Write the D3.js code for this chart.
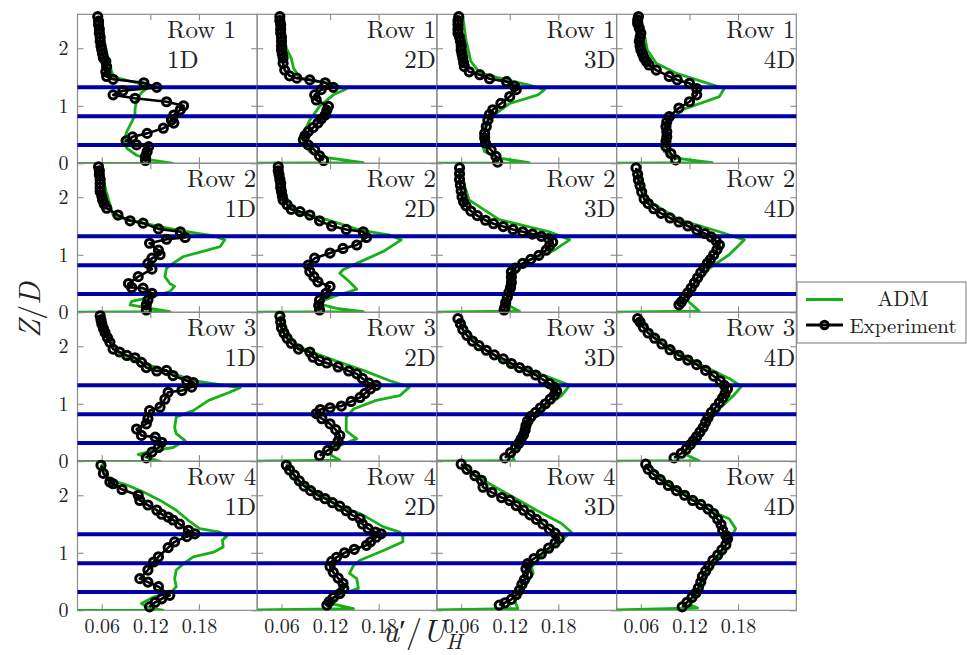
<!DOCTYPE html>
<html>
<head>
<meta charset="utf-8">
<script src="https://cdn.jsdelivr.net/npm/d3@7"></script>
<style>
  body { margin: 0; background: #fff; }
  svg { display: block; }
</style>
</head>
<body>
<div id="chart"></div>
<script>
// panel titles and axes
var rowNames  = ["Row 1", "Row 2", "Row 3", "Row 4"];
var distNames = ["1D", "2D", "3D", "4D"];
var xTicks = [0.06, 0.12, 0.18];
var zTicks = [0, 1, 2];
var rotorLines = [0.32, 0.82, 1.32];   // bottom tip, hub, top tip (Z/D)

// [u'/U_H, Z/D] pairs
var expR1_1D = [[0.055,2.55],[0.056,2.47],[0.056,2.41],[0.057,2.33],[0.057,2.26],[0.058,2.19],[0.058,2.12],[0.059,2.04],[0.060,1.97],[0.061,1.90],[0.062,1.83],[0.065,1.77],[0.066,1.68],[0.065,1.59],[0.066,1.51],[0.074,1.46],[0.112,1.40],[0.128,1.32],[0.086,1.26],[0.074,1.19],[0.101,1.13],[0.140,1.07],[0.161,1.00],[0.157,0.93],[0.149,0.84],[0.146,0.75],[0.149,0.70],[0.136,0.61],[0.116,0.52],[0.098,0.46],[0.090,0.39],[0.103,0.32],[0.118,0.29],[0.116,0.20],[0.114,0.12],[0.114,0.05]];
var admR1_1D = [[0.058,2.55],[0.062,2.20],[0.068,1.80],[0.072,1.60],[0.075,1.50],[0.106,1.39],[0.120,1.35],[0.109,1.23],[0.103,1.10],[0.101,0.93],[0.101,0.84],[0.097,0.72],[0.091,0.55],[0.088,0.41],[0.091,0.26],[0.103,0.14],[0.120,0.06],[0.148,0.0],[0,0]];
var expR1_2D = [[0.058,2.55],[0.058,2.48],[0.059,2.41],[0.059,2.33],[0.059,2.26],[0.060,2.19],[0.060,2.12],[0.060,2.04],[0.060,1.97],[0.061,1.90],[0.062,1.83],[0.062,1.74],[0.064,1.62],[0.070,1.52],[0.079,1.48],[0.095,1.45],[0.114,1.40],[0.124,1.32],[0.109,1.28],[0.101,1.19],[0.103,1.10],[0.118,0.99],[0.116,0.92],[0.114,0.84],[0.109,0.77],[0.105,0.70],[0.099,0.62],[0.093,0.55],[0.089,0.48],[0.087,0.41],[0.093,0.32],[0.101,0.23],[0.107,0.13],[0.112,0.05]];
var admR1_2D = [[0.060,2.55],[0.066,2.00],[0.072,1.83],[0.075,1.65],[0.083,1.48],[0.120,1.39],[0.140,1.29],[0.124,1.19],[0.107,0.99],[0.095,0.75],[0.087,0.52],[0.087,0.35],[0.095,0.20],[0.116,0.10],[0.161,0.01],[0,0]];
var expR1_3D = [[0.057,2.55],[0.056,2.48],[0.056,2.41],[0.056,2.33],[0.056,2.26],[0.058,2.19],[0.059,2.12],[0.060,2.04],[0.060,1.97],[0.061,1.90],[0.062,1.83],[0.063,1.75],[0.064,1.68],[0.070,1.59],[0.083,1.54],[0.095,1.47],[0.116,1.42],[0.126,1.34],[0.128,1.28],[0.120,1.16],[0.109,1.04],[0.099,0.93],[0.095,0.85],[0.093,0.75],[0.091,0.64],[0.089,0.52],[0.089,0.44],[0.090,0.35],[0.097,0.23],[0.103,0.12],[0.105,0.02]];
var admR1_3D = [[0.062,2.55],[0.066,2.14],[0.072,1.77],[0.083,1.57],[0.116,1.45],[0.144,1.36],[0.163,1.28],[0.155,1.19],[0.120,1.04],[0.103,0.87],[0.089,0.64],[0.085,0.35],[0.089,0.20],[0.107,0.09],[0.144,0.01],[0,0]];
var expR1_4D = [[0.057,2.55],[0.056,2.49],[0.056,2.43],[0.058,2.35],[0.060,2.26],[0.059,2.19],[0.058,2.12],[0.059,2.04],[0.060,1.97],[0.062,1.90],[0.064,1.83],[0.067,1.77],[0.070,1.71],[0.079,1.62],[0.095,1.51],[0.105,1.45],[0.120,1.39],[0.129,1.30],[0.129,1.19],[0.120,1.07],[0.107,0.96],[0.095,0.81],[0.092,0.72],[0.091,0.64],[0.092,0.55],[0.092,0.46],[0.091,0.38],[0.091,0.29],[0.097,0.17],[0.103,0.06]];
var admR1_4D = [[0.060,2.55],[0.064,2.26],[0.068,1.97],[0.079,1.74],[0.103,1.57],[0.136,1.42],[0.163,1.30],[0.157,1.16],[0.111,0.93],[0.093,0.70],[0.087,0.41],[0.089,0.20],[0.103,0.09],[0.148,0.01],[0,0]];

var expR2_1D = [[0.056,2.53],[0.057,2.46],[0.057,2.39],[0.058,2.31],[0.058,2.24],[0.058,2.17],[0.058,2.10],[0.060,2.02],[0.061,1.95],[0.063,1.88],[0.066,1.81],[0.080,1.69],[0.095,1.59],[0.111,1.55],[0.130,1.45],[0.157,1.40],[0.163,1.30],[0.140,1.27],[0.119,1.20],[0.130,1.08],[0.132,1.00],[0.122,0.94],[0.117,0.85],[0.122,0.75],[0.105,0.62],[0.093,0.50],[0.097,0.43],[0.111,0.42],[0.122,0.33],[0.117,0.21],[0.115,0.13],[0.115,0.04]];
var admR2_1D = [[0.058,2.53],[0.066,2.07],[0.074,1.69],[0.091,1.61],[0.132,1.49],[0.165,1.40],[0.198,1.33],[0.212,1.26],[0.206,1.14],[0.185,1.06],[0.161,0.97],[0.148,0.85],[0.140,0.77],[0.138,0.62],[0.144,0.50],[0.150,0.45],[0.144,0.36],[0.122,0.27],[0.097,0.19],[0.095,0.13],[0.111,0.09],[0.144,0.01],[0,0]];
var expR2_2D = [[0.056,2.53],[0.056,2.46],[0.057,2.39],[0.058,2.31],[0.059,2.24],[0.059,2.17],[0.060,2.10],[0.061,2.02],[0.062,1.95],[0.067,1.87],[0.072,1.79],[0.083,1.75],[0.095,1.69],[0.107,1.59],[0.122,1.50],[0.140,1.44],[0.161,1.40],[0.165,1.30],[0.153,1.17],[0.136,1.11],[0.120,1.03],[0.101,0.94],[0.093,0.82],[0.095,0.71],[0.100,0.62],[0.105,0.53],[0.120,0.45],[0.115,0.33],[0.107,0.21],[0.106,0.12],[0.107,0.04]];
var admR2_2D = [[0.058,2.53],[0.066,1.95],[0.083,1.72],[0.116,1.61],[0.157,1.43],[0.194,1.34],[0.208,1.26],[0.186,1.06],[0.153,0.85],[0.136,0.74],[0.132,0.68],[0.144,0.53],[0.153,0.40],[0.124,0.27],[0.103,0.16],[0.128,0.07],[0.161,0.01],[0,0]];
var expR2_3D = [[0.058,2.51],[0.058,2.41],[0.058,2.31],[0.059,2.21],[0.060,2.11],[0.061,2.01],[0.063,1.92],[0.066,1.85],[0.072,1.76],[0.080,1.68],[0.090,1.60],[0.100,1.54],[0.112,1.49],[0.124,1.44],[0.136,1.40],[0.148,1.36],[0.159,1.32],[0.168,1.28],[0.173,1.22],[0.169,1.15],[0.165,1.08],[0.156,0.99],[0.146,0.92],[0.136,0.85],[0.127,0.77],[0.122,0.70],[0.122,0.61],[0.122,0.52],[0.121,0.43],[0.119,0.35],[0.117,0.26],[0.115,0.17],[0.114,0.09],[0.113,0.04]];
var admR2_3D = [[0.060,2.51],[0.064,2.20],[0.070,1.95],[0.107,1.61],[0.169,1.40],[0.194,1.26],[0.175,1.08],[0.138,0.87],[0.126,0.65],[0.122,0.39],[0.113,0.16],[0.132,0.02],[0,0]];
var expR2_4D = [[0.054,2.51],[0.056,2.40],[0.057,2.30],[0.059,2.20],[0.061,2.09],[0.064,1.97],[0.069,1.89],[0.076,1.80],[0.085,1.72],[0.096,1.64],[0.107,1.57],[0.118,1.50],[0.129,1.43],[0.139,1.37],[0.147,1.31],[0.153,1.24],[0.157,1.17],[0.154,1.09],[0.150,1.00],[0.146,0.92],[0.142,0.85],[0.138,0.77],[0.134,0.69],[0.130,0.60],[0.126,0.51],[0.122,0.42],[0.118,0.34],[0.114,0.26],[0.110,0.18],[0.107,0.13]];
var admR2_4D = [[0.058,2.51],[0.062,2.20],[0.068,1.95],[0.107,1.61],[0.157,1.40],[0.188,1.26],[0.169,1.00],[0.145,0.77],[0.129,0.48],[0.117,0.21],[0.132,0.02],[0,0]];

var expR3_1D = [[0.058,2.53],[0.059,2.46],[0.060,2.39],[0.062,2.31],[0.064,2.24],[0.067,2.15],[0.070,2.07],[0.074,1.95],[0.082,1.90],[0.091,1.84],[0.101,1.80],[0.109,1.72],[0.115,1.63],[0.128,1.57],[0.140,1.58],[0.148,1.49],[0.165,1.40],[0.173,1.37],[0.171,1.29],[0.159,1.23],[0.142,1.20],[0.138,1.08],[0.132,0.94],[0.119,0.88],[0.117,0.74],[0.115,0.65],[0.103,0.56],[0.109,0.45],[0.126,0.42],[0.134,0.33],[0.130,0.24],[0.122,0.16],[0.115,0.06]];
var admR3_1D = [[0.058,2.55],[0.070,2.10],[0.082,1.87],[0.115,1.69],[0.144,1.55],[0.173,1.40],[0.202,1.34],[0.231,1.28],[0.218,1.20],[0.192,1.06],[0.173,0.88],[0.152,0.77],[0.150,0.59],[0.152,0.48],[0.163,0.36],[0.148,0.24],[0.126,0.19],[0.105,0.12],[0.115,0.07],[0.132,0.0],[0,0]];
var expR3_2D = [[0.058,2.52],[0.059,2.42],[0.060,2.32],[0.063,2.23],[0.067,2.14],[0.072,2.05],[0.081,1.95],[0.095,1.90],[0.099,1.81],[0.107,1.75],[0.116,1.71],[0.130,1.64],[0.143,1.57],[0.153,1.52],[0.160,1.44],[0.168,1.36],[0.177,1.32],[0.170,1.26],[0.163,1.18],[0.157,1.11],[0.146,1.04],[0.134,0.96],[0.120,0.93],[0.108,0.90],[0.103,0.83],[0.110,0.74],[0.120,0.65],[0.127,0.55],[0.132,0.45],[0.130,0.35],[0.126,0.27],[0.117,0.19],[0.107,0.10]];
var admR3_2D = [[0.060,2.55],[0.070,2.16],[0.083,1.98],[0.103,1.87],[0.132,1.72],[0.161,1.58],[0.194,1.40],[0.218,1.29],[0.206,1.14],[0.177,1.06],[0.149,0.91],[0.140,0.77],[0.140,0.53],[0.153,0.39],[0.136,0.30],[0.120,0.19],[0.122,0.10],[0.132,0.02],[0,0]];
var expR3_3D = [[0.056,2.48],[0.059,2.39],[0.062,2.29],[0.067,2.19],[0.074,2.09],[0.082,2.01],[0.091,1.93],[0.101,1.85],[0.112,1.78],[0.122,1.70],[0.132,1.63],[0.142,1.57],[0.152,1.50],[0.161,1.42],[0.169,1.35],[0.175,1.29],[0.178,1.22],[0.175,1.15],[0.170,1.08],[0.164,1.00],[0.158,0.93],[0.152,0.85],[0.146,0.78],[0.142,0.70],[0.140,0.62],[0.139,0.54],[0.137,0.46],[0.134,0.39],[0.131,0.31],[0.127,0.23],[0.121,0.15],[0.114,0.06]];
var admR3_3D = [[0.058,2.48],[0.080,2.02],[0.120,1.68],[0.163,1.49],[0.194,1.32],[0.184,1.14],[0.157,0.88],[0.145,0.62],[0.135,0.36],[0.123,0.10],[0.126,0.01],[0,0]];
var expR3_4D = [[0.056,2.48],[0.059,2.42],[0.063,2.33],[0.069,2.23],[0.077,2.14],[0.086,2.04],[0.096,1.94],[0.107,1.84],[0.118,1.76],[0.129,1.68],[0.140,1.58],[0.150,1.48],[0.158,1.40],[0.163,1.32],[0.167,1.26],[0.164,1.18],[0.161,1.10],[0.157,1.02],[0.152,0.93],[0.147,0.85],[0.143,0.76],[0.140,0.68],[0.137,0.59],[0.133,0.51],[0.129,0.43],[0.125,0.36],[0.121,0.29],[0.116,0.21],[0.110,0.14],[0.101,0.06]];
var admR3_4D = [[0.058,2.48],[0.085,2.06],[0.132,1.69],[0.169,1.44],[0.184,1.30],[0.175,1.15],[0.154,0.88],[0.138,0.62],[0.126,0.36],[0.113,0.13],[0.132,0.01],[0,0]];

var expR4_1D = [[0.059,2.52],[0.062,2.38],[0.070,2.23],[0.074,2.20],[0.085,2.10],[0.105,2.00],[0.107,1.91],[0.117,1.83],[0.128,1.74],[0.134,1.67],[0.142,1.62],[0.148,1.57],[0.156,1.50],[0.167,1.39],[0.175,1.33],[0.165,1.28],[0.150,1.19],[0.142,1.09],[0.130,0.93],[0.124,0.84],[0.117,0.70],[0.107,0.55],[0.117,0.49],[0.130,0.41],[0.144,0.26],[0.134,0.20],[0.126,0.14],[0.119,0.06]];
var admR4_1D = [[0.060,2.55],[0.070,2.26],[0.087,2.20],[0.111,2.06],[0.132,1.91],[0.152,1.74],[0.169,1.54],[0.181,1.42],[0.206,1.36],[0.214,1.28],[0.209,1.22],[0.210,1.10],[0.198,1.01],[0.173,0.93],[0.161,0.81],[0.152,0.70],[0.150,0.55],[0.152,0.41],[0.146,0.32],[0.124,0.23],[0.109,0.12],[0.115,0.06],[0.136,0.0],[0,0]];
var expR4_2D = [[0.066,2.52],[0.070,2.44],[0.076,2.35],[0.082,2.25],[0.088,2.16],[0.096,2.08],[0.105,2.00],[0.114,1.94],[0.123,1.87],[0.132,1.81],[0.140,1.73],[0.148,1.65],[0.157,1.59],[0.160,1.50],[0.167,1.42],[0.176,1.36],[0.183,1.33],[0.177,1.27],[0.170,1.19],[0.165,1.13],[0.150,1.06],[0.138,1.00],[0.128,0.92],[0.122,0.85],[0.120,0.76],[0.124,0.66],[0.130,0.56],[0.136,0.47],[0.137,0.38],[0.132,0.29],[0.124,0.22],[0.119,0.15],[0.116,0.09]];
var admR4_2D = [[0.066,2.55],[0.079,2.26],[0.103,2.06],[0.132,1.80],[0.157,1.68],[0.165,1.62],[0.186,1.45],[0.206,1.36],[0.210,1.28],[0.210,1.19],[0.186,1.04],[0.157,0.87],[0.149,0.78],[0.144,0.64],[0.153,0.55],[0.155,0.38],[0.136,0.29],[0.120,0.12],[0.149,0.03],[0,0]];
var expR4_3D = [[0.060,2.54],[0.067,2.45],[0.077,2.34],[0.085,2.26],[0.087,2.14],[0.098,2.05],[0.110,1.96],[0.120,1.91],[0.128,1.82],[0.137,1.74],[0.145,1.66],[0.153,1.58],[0.161,1.50],[0.169,1.41],[0.176,1.34],[0.181,1.25],[0.176,1.17],[0.168,1.08],[0.159,0.98],[0.150,0.90],[0.142,0.81],[0.140,0.72],[0.142,0.62],[0.138,0.53],[0.135,0.45],[0.132,0.35],[0.128,0.27],[0.122,0.19],[0.114,0.13],[0.107,0.09]];
var admR4_3D = [[0.062,2.55],[0.074,2.38],[0.091,2.23],[0.124,1.97],[0.153,1.74],[0.184,1.51],[0.196,1.36],[0.186,1.25],[0.173,1.10],[0.157,0.93],[0.147,0.75],[0.149,0.64],[0.142,0.49],[0.136,0.35],[0.126,0.17],[0.130,0.03],[0,0]];
var expR4_4D = [[0.066,2.54],[0.069,2.45],[0.076,2.36],[0.084,2.27],[0.094,2.17],[0.104,2.08],[0.114,2.00],[0.124,1.91],[0.134,1.84],[0.143,1.76],[0.150,1.68],[0.155,1.58],[0.159,1.49],[0.161,1.39],[0.165,1.30],[0.167,1.24],[0.165,1.14],[0.160,1.05],[0.155,0.96],[0.149,0.87],[0.144,0.77],[0.140,0.68],[0.136,0.59],[0.134,0.49],[0.131,0.39],[0.128,0.30],[0.123,0.22],[0.117,0.14],[0.111,0.06]];
var admR4_4D = [[0.068,2.55],[0.087,2.29],[0.120,1.97],[0.149,1.71],[0.169,1.59],[0.177,1.42],[0.173,1.30],[0.169,1.22],[0.157,0.93],[0.142,0.64],[0.136,0.46],[0.128,0.23],[0.120,0.10],[0.130,0.04],[0,0]];

var expGrid = [[expR1_1D, expR1_2D, expR1_3D, expR1_4D],
               [expR2_1D, expR2_2D, expR2_3D, expR2_4D],
               [expR3_1D, expR3_2D, expR3_3D, expR3_4D],
               [expR4_1D, expR4_2D, expR4_3D, expR4_4D]];
var admGrid = [[admR1_1D, admR1_2D, admR1_3D, admR1_4D],
               [admR2_1D, admR2_2D, admR2_3D, admR2_4D],
               [admR3_1D, admR3_2D, admR3_3D, admR3_4D],
               [admR4_1D, admR4_2D, admR4_3D, admR4_4D]];

var width = 967, height = 655;
var grid = {left: 77.5, top: 14.3, panelW: 179.7, panelH: 149};
var serif = "'Latin Modern Roman', 'Liberation Serif', 'Times New Roman', serif";
var admColor = "#17b117", expColor = "#000", rotorColor = "#0000a8", frameColor = "#8c8c8c";

var svg = d3.select("#chart").append("svg")
    .attr("width", width)
    .attr("height", height)
    .style("font-family", serif);

var x = d3.scaleLinear().domain([0.03, 0.252]).range([0, grid.panelW]);
var z = d3.scaleLinear().domain([0, 2.59]).range([grid.panelH, 0]);

var line = d3.line()
    .x(function(d) { return x(d[0]); })
    .y(function(d) { return z(d[1]); });

var defs = svg.append("defs");
defs.append("clipPath").attr("id", "panelclip")
  .append("rect")
    .attr("width", grid.panelW)
    .attr("height", grid.panelH);

for (var r = 0; r < 4; r++) {
  for (var c = 0; c < 4; c++) {
    var px = grid.left + c * grid.panelW,
        py = grid.top + r * grid.panelH;
    var g = svg.append("g").attr("transform", "translate(" + px + "," + py + ")");

    g.append("rect")
      .attr("width", grid.panelW)
      .attr("height", grid.panelH)
      .attr("fill", "none")
      .attr("stroke", frameColor)
      .attr("stroke-width", 1.2);

    // inward ticks on all four sides, labels only on the outer panels
    var axB = g.append("g").attr("transform", "translate(0," + grid.panelH + ")")
      .call(d3.axisBottom(x).tickValues(xTicks).tickSize(-6).tickPadding(9).tickFormat(d3.format(".2f")));
    var axT = g.append("g")
      .call(d3.axisTop(x).tickValues(xTicks).tickSize(-6).tickFormat(""));
    var axL = g.append("g")
      .call(d3.axisLeft(z).tickValues(zTicks).tickSize(-6).tickPadding(9).tickFormat(d3.format("d")));
    var axR = g.append("g").attr("transform", "translate(" + grid.panelW + ",0)")
      .call(d3.axisRight(z).tickValues(zTicks).tickSize(-6).tickFormat(""));
    if (r !== 3) axB.selectAll(".tick text").remove();
    if (c !== 0) axL.selectAll(".tick text").remove();
    axT.selectAll(".tick text").remove();
    axR.selectAll(".tick text").remove();
    [axB, axT, axL, axR].forEach(function(a) {
      a.select(".domain").remove();
      a.selectAll(".tick line").attr("stroke", frameColor).attr("stroke-width", 1.1);
      a.selectAll(".tick text")
        .attr("fill", "#222")
        .style("font-family", serif)
        .style("font-size", "20px");
    });

    // ADM (clipped to the panel)
    g.append("path")
      .datum(admGrid[r][c])
      .attr("clip-path", "url(#panelclip)")
      .attr("d", line)
      .attr("fill", "none")
      .attr("stroke", admColor)
      .attr("stroke-width", 2.8)
      .attr("stroke-linejoin", "round");

    // rotor bottom / hub / top
    g.selectAll(".rotor")
      .data(rotorLines)
      .enter().append("line")
      .attr("x1", 0)
      .attr("x2", grid.panelW)
      .attr("y1", function(d) { return z(d); })
      .attr("y2", function(d) { return z(d); })
      .attr("stroke", rotorColor)
      .attr("stroke-width", 4);

    // Experiment
    g.append("path")
      .datum(expGrid[r][c])
      .attr("d", line)
      .attr("fill", "none")
      .attr("stroke", expColor)
      .attr("stroke-width", 2.6)
      .attr("stroke-linejoin", "round");
    g.selectAll(".mark")
      .data(expGrid[r][c])
      .enter().append("circle")
      .attr("cx", function(d) { return x(d[0]); })
      .attr("cy", function(d) { return z(d[1]); })
      .attr("r", 4.1)
      .attr("fill", "none")
      .attr("stroke", expColor)
      .attr("stroke-width", 3);

    // panel label
    var lx = (r === 0 && c === 0) ? 89.5 : grid.panelW - 1;
    var anchor = (r === 0 && c === 0) ? "start" : "end";
    g.append("text")
      .attr("x", lx).attr("y", 23.8)
      .attr("text-anchor", anchor)
      .style("font-size", "25px")
      .attr("fill", "#222")
      .text(rowNames[r]);
    g.append("text")
      .attr("x", lx).attr("y", 54)
      .attr("text-anchor", anchor)
      .style("font-size", "25px")
      .attr("fill", "#222")
      .text(distNames[c]);
  }
}

// axis titles
svg.append("text")
  .attr("transform", "translate(40,310) rotate(-90)")
  .attr("text-anchor", "middle")
  .style("font-size", "30px")
  .attr("fill", "#222")
  .html("<tspan font-style='italic'>Z</tspan>/<tspan font-style='italic'>D</tspan>");

svg.append("text")
  .attr("x", 422).attr("y", 642)
  .attr("text-anchor", "middle")
  .style("font-size", "32px")
  .attr("fill", "#222")
  .html("<tspan font-style='italic'>u</tspan>′/<tspan font-style='italic'>U</tspan><tspan font-style='italic' font-size='22px' dy='7'>H</tspan>");

// legend
var legend = svg.append("g").attr("transform", "translate(797,282)");
legend.append("rect")
  .attr("width", 169).attr("height", 61)
  .attr("fill", "#fff")
  .attr("stroke", frameColor)
  .attr("stroke-width", 1.2);
legend.append("line")
  .attr("x1", 9).attr("x2", 46).attr("y1", 17.5).attr("y2", 17.5)
  .attr("stroke", admColor).attr("stroke-width", 3);
legend.append("text")
  .attr("x", 106).attr("y", 24).attr("text-anchor", "middle")
  .style("font-size", "21px").attr("fill", "#222")
  .text("ADM");
legend.append("line")
  .attr("x1", 9).attr("x2", 46).attr("y1", 43).attr("y2", 43)
  .attr("stroke", expColor).attr("stroke-width", 3);
legend.append("circle")
  .attr("cx", 27.5).attr("cy", 43).attr("r", 3.7)
  .attr("fill", "none").attr("stroke", expColor).attr("stroke-width", 3);
legend.append("text")
  .attr("x", 106).attr("y", 50.5).attr("text-anchor", "middle")
  .style("font-size", "21px").attr("fill", "#222")
  .text("Experiment");
</script>
</body>
</html>
